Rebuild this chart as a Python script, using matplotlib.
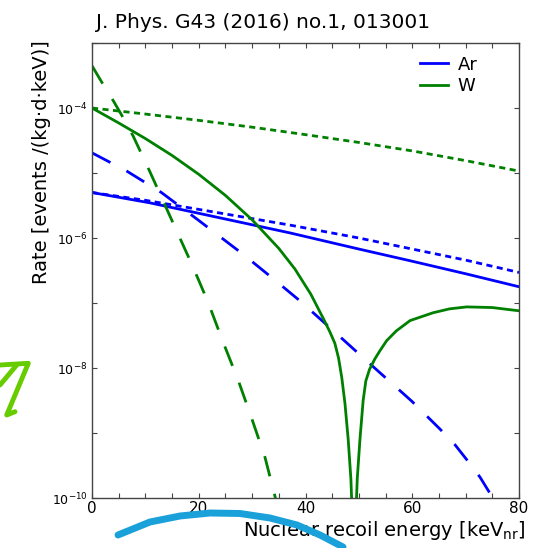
import numpy as np
import matplotlib
matplotlib.use("Agg")
import matplotlib.pyplot as plt
from matplotlib.lines import Line2D

# Valores (energia en keV, tasa en log10)
ar_solid_e = [0, 10.9, 20, 37, 50, 59.6, 70, 80]
ar_solid_log = [-5.30, -5.46, -5.62, -5.92, -6.17, -6.35, -6.55, -6.75]

ar_dot_e = [0, 10, 20, 37, 50, 60, 70, 80]
ar_dot_log = [-5.30, -5.42, -5.56, -5.80, -6.00, -6.17, -6.34, -6.53]

ar_dash_e = [0, 6.5, 13, 20, 28.3, 34.3, 39, 45.8, 52, 59.9, 65.2, 68, 70.3, 72.7, 75.1, 77]
ar_dash_log = [-4.69, -4.97, -5.30, -5.73, -6.25, -6.65, -6.97, -7.47, -7.93, -8.51,
               -8.94, -9.18, -9.42, -9.68, -10.0, -10.3]

w_solid_e = [0, 5, 10, 15, 20, 25, 30, 35, 38, 41, 43.5, 44.6, 45.5, 46.2, 46.8, 47.4,
             48.0, 48.5, 49.1, 49.7, 50.2, 50.8, 51.3, 52, 53, 53.9, 55.2, 57, 59.6,
             63.9, 67, 70.2, 75, 80]
w_solid_log = [-4.0, -4.23, -4.47, -4.73, -5.02, -5.345, -5.72, -6.16, -6.475, -6.865,
               -7.265, -7.45, -7.62, -7.85, -8.15, -8.55, -9.1, -9.7, -11.0, -9.7, -9.1,
               -8.5, -8.2, -8.02, -7.86, -7.74, -7.58, -7.43, -7.27, -7.15, -7.09, -7.06,
               -7.07, -7.12]

w_dot_e = [0, 10, 20, 30, 40, 50, 60, 70, 80]
w_dot_log = [-4.0, -4.093, -4.19, -4.295, -4.41, -4.53, -4.66, -4.81, -4.97]

w_dash_e = [0, 2.1, 4, 6.2, 7.7, 10.9, 15.8, 18.4, 20.2, 21.8, 24.6, 27.4, 29.9, 32.4, 34.3, 36]
w_dash_log = [-3.35, -3.64, -3.89, -4.20, -4.43, -4.99, -5.88, -6.35, -6.69, -7.0, -7.61,
              -8.19, -8.77, -9.37, -9.98, -10.5]

y_major = [1e-10, 1e-8, 1e-6, 1e-4]
y_major_labels = [r'$10^{-10}$', r'$10^{-8}$', r'$10^{-6}$', r'$10^{-4}$']
y_minor = [1e-9, 1e-7, 1e-5, 1e-3]

# garabatos encima de la figura (pixeles de la imagen)
garabato_verde_x = [0, 28.3, 6.7, 15]
garabato_verde_y = [365, 363.3, 415, 411.7]
garabato_verde2_x = [0, 16.7]
garabato_verde2_y = [385, 365]
arco_azul_x = [118, 150, 180, 210, 240, 270, 297, 320, 343]
arco_azul_y = [535, 522, 516, 513, 513.5, 518, 525, 535, 547]

W, H = 539, 548
fig = plt.figure(figsize=(W / 100, H / 100), dpi=100)
ax = fig.add_axes([92 / W, 1 - 498 / H, (519 - 92) / W, (498 - 43) / H])

lw = 2
dash_largo = (0, (7.5, 6.5))
punteado = (0, (2.2, 1.6))

ax.plot(ar_solid_e, 10.0 ** np.array(ar_solid_log), color='blue', lw=lw)
ax.plot(ar_dot_e, 10.0 ** np.array(ar_dot_log), color='blue', lw=lw, ls=punteado)
ax.plot(ar_dash_e, 10.0 ** np.array(ar_dash_log), color='blue', lw=lw, ls=dash_largo)
ax.plot(w_solid_e, 10.0 ** np.array(w_solid_log), color='green', lw=lw)
ax.plot(w_dot_e, 10.0 ** np.array(w_dot_log), color='green', lw=lw, ls=punteado)
ax.plot(w_dash_e, 10.0 ** np.array(w_dash_log), color='green', lw=lw, ls=dash_largo)

ax.set_yscale('log')
ax.set_xlim(0, 80)
ax.set_ylim(1e-10, 1e-3)
ax.set_xticks([0, 20, 40, 60, 80])
ax.set_xticks(np.arange(0, 81, 5), minor=True)
ax.set_yticks(y_major, labels=y_major_labels)
ax.set_yticks(y_minor, minor=True)
ax.yaxis.set_minor_formatter(matplotlib.ticker.NullFormatter())
ax.tick_params(which='both', direction='in', top=True, right=True, length=3.5,
               width=0.8, color='#444444')
ax.tick_params(axis='x', labelsize=11, pad=2)
ax.tick_params(axis='y', labelsize=9, pad=3)
for s in ax.spines.values():
    s.set_color('#444444')
    s.set_linewidth(1)

handles = [Line2D([], [], color='blue', lw=lw), Line2D([], [], color='green', lw=lw)]
ax.legend(handles, ['Ar', 'W'], loc='upper right', bbox_to_anchor=(0.932, 1.0),
          frameon=False, fontsize=13, handlelength=1.6, handletextpad=0.5,
          labelspacing=0.2, borderaxespad=0.3)

fig.text(263 / W, 1 - 22 / H, 'J. Phys. G43 (2016) no.1, 013001', fontsize=14.5,
         ha='center', va='center')
fig.text(42 / W, 1 - 162 / H, 'Rate [events /(kg·d·keV)]', fontsize=14,
         rotation=90, ha='center', va='center')
fig.text(526 / W, 1 - 531 / H, r'Nuclear recoil energy [keV$_{\rm nr}$]', fontsize=14,
         ha='right', va='center')

def a_fig(xs, ys):
    return [x / W for x in xs], [1 - y / H for y in ys]

gx, gy = a_fig(garabato_verde_x, garabato_verde_y)
fig.add_artist(Line2D(gx, gy, color='#66cc00', lw=3.5, solid_capstyle='round',
                      solid_joinstyle='round', zorder=10))
gx, gy = a_fig(garabato_verde2_x, garabato_verde2_y)
fig.add_artist(Line2D(gx, gy, color='#66cc00', lw=3.5, solid_capstyle='round', zorder=10))
bx, by = a_fig(arco_azul_x, arco_azul_y)
fig.add_artist(Line2D(bx, by, color='#1ba1d9', lw=5, solid_capstyle='round',
                      solid_joinstyle='round', zorder=10))

fig.savefig('out.png', dpi=100)
